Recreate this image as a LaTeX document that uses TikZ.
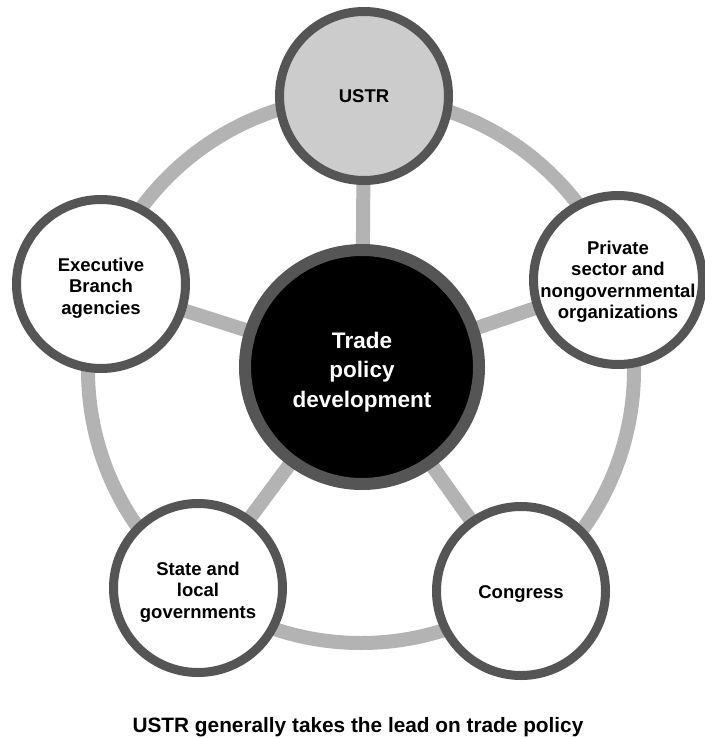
\documentclass[tikz,border=0pt]{standalone}
\usepackage{fontspec}
\setmainfont{Liberation Sans}
\usetikzlibrary{backgrounds}
\definecolor{ringgray}{HTML}{B3B3B3}
\definecolor{bordergray}{HTML}{555555}
\definecolor{ustrfill}{HTML}{CCCCCC}
\begin{document}
\begin{tikzpicture}[x=1pt,y=-1pt,
  sat/.style={circle, draw=bordergray, line width=9pt, fill=white, minimum size=169pt, inner sep=0pt},
  sattext/.style={align=center, inner sep=0pt, font=\fontsize{18.5}{21.5}\selectfont\bfseries},
  hub/.style={circle, draw=bordergray, line width=12pt, fill=black, minimum size=234pt, inner sep=0pt},
  hubtext/.style={align=center, inner sep=0pt, text=white, font=\fontsize{22.5}{29.5}\selectfont\bfseries},
  link/.style={draw=ringgray, line width=14pt},
  captionstyle/.style={font=\fontsize{20.8}{24}\selectfont\bfseries, anchor=base, inner sep=0pt}]
\useasboundingbox (0,0) rectangle (704,738);
\coordinate (ringc) at (361,370);
\node[hub, label={[hubtext, yshift=-5pt]center:{Trade\\policy\\development}}] (hub) at (362,367) {};
\node[sat, fill=ustrfill, label={[sattext]center:{USTR}}] (ustr) at (364,96) {};
\node[sat, label={[sattext, yshift=-4pt]center:{Executive\\Branch\\agencies}}] (exec) at (101,284) {};
\node[sat, label={[sattext, yshift=-2pt]center:{Private\\sector and\\nongovernmental\\organizations}}] (priv) at (618,280) {};
\node[sat, label={[sattext, yshift=-4pt]center:{State and\\local\\governments}}] (state) at (198,588) {};
\node[sat, label={[sattext, yshift=-3pt]center:{Congress}}] (cong) at (521,591) {};
\node[captionstyle] (cap) at (358,732) {USTR generally takes the lead on trade policy};
\begin{scope}[on background layer]
  \fill[white] (0,0) rectangle (704,738);
  \draw[link] (ringc) circle[radius=273pt];
  \draw[link] (hub.center) -- (ustr.center);
  \draw[link] (hub.center) -- (exec.center);
  \draw[link] (hub.center) -- (priv.center);
  \draw[link] (hub.center) -- (state.center);
  \draw[link] (hub.center) -- (cong.center);
\end{scope}
\end{tikzpicture}
\end{document}
